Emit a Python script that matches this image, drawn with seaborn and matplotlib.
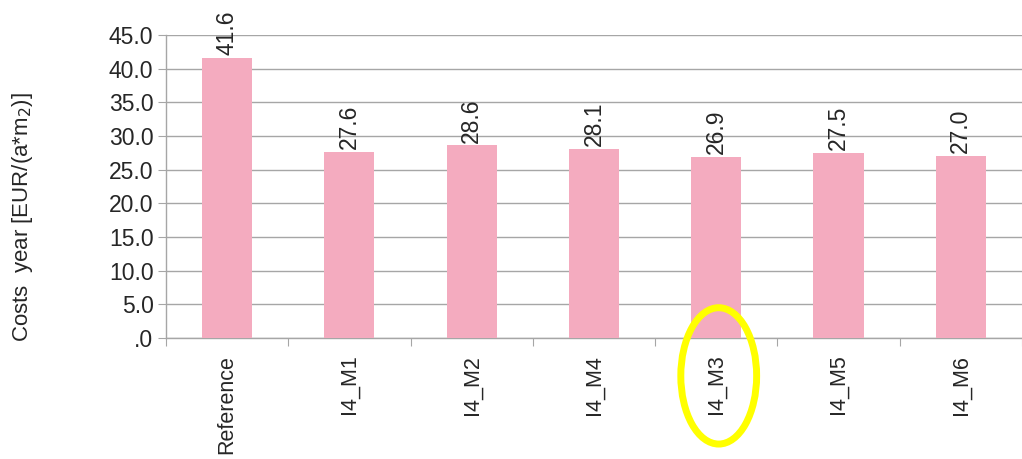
import matplotlib
matplotlib.use("Agg")
import matplotlib.pyplot as plt
import seaborn as sns
import pandas as pd
from matplotlib.patches import Ellipse
from matplotlib.ticker import FuncFormatter, FixedLocator

# === Data ===
variants = ["Reference", "I4_M1", "I4_M2", "I4_M4", "I4_M3", "I4_M5", "I4_M6"]
costs = [41.6, 27.6, 28.6, 28.1, 26.9, 27.5, 27.0]
highlight = "I4_M3"

df = pd.DataFrame({"variant": variants, "cost": costs})

sns.set_style("white")
plt.rcParams["font.family"] = ["Liberation Sans", "DejaVu Sans"]

fig = plt.figure(figsize=(10.22, 4.59), dpi=100)
ax = fig.add_axes([0.1624, 0.2636, 0.8376, 0.6601])

sns.barplot(data=df, x="variant", y="cost", color="#F4ABBF", saturation=1,
            width=0.41, linewidth=0, ax=ax, zorder=3)

grid_c = "#A6A6A6"
ax.set_ylim(0, 45)
ax.set_xlim(-0.5, len(variants) - 0.5)
ax.set_yticks([0, 5, 10, 15, 20, 25, 30, 35, 40, 45])
ax.yaxis.set_major_formatter(FuncFormatter(lambda v, p: ".0" if v == 0 else f"{v:.1f}"))
ax.yaxis.grid(True, color=grid_c, linewidth=1.0, zorder=0)
ax.set_axisbelow(True)

# x ticks at category boundaries, labels at centres
ax.xaxis.set_major_locator(FixedLocator([i - 0.5 for i in range(len(variants) + 1)]))
ax.xaxis.set_minor_locator(FixedLocator(list(range(len(variants)))))
ax.xaxis.set_major_formatter(FuncFormatter(lambda v, p: ""))
ax.set_xticklabels(variants, minor=True, rotation=90, fontsize=15.5)
ax.tick_params(axis="x", which="major", length=6, color=grid_c, direction="out", bottom=True)
ax.tick_params(axis="x", which="minor", length=0, pad=12)
ax.tick_params(axis="y", length=6, color=grid_c, direction="out", left=True, labelsize=16.5, pad=3)

for s in ["top", "right"]:
    ax.spines[s].set_visible(False)
for s in ["left", "bottom"]:
    ax.spines[s].set_color(grid_c)
    ax.spines[s].set_linewidth(1.0)

ax.set_xlabel("")
ax.set_ylabel("Costs  year [EUR/(a*m$_2$)]", fontsize=16)
ax.yaxis.set_label_coords(-0.168, 0.40)
ax.yaxis.label.set_va("center")

# value labels
for i, v in enumerate(costs):
    ax.annotate(f"{v:.1f}", (i, v), xytext=(0, 2), textcoords="offset points",
                rotation=90, ha="center", va="bottom", fontsize=16.5)

# yellow ellipse around the highlighted label
hi = variants.index(highlight)
trans = ax.get_xaxis_transform()
ell = Ellipse((hi + 0.02, -0.125), width=0.62, height=0.45, transform=trans,
              fill=False, edgecolor="#FFFF00", linewidth=5, clip_on=False, zorder=5)
ax.add_patch(ell)

fig.savefig("out.png", dpi=100)
